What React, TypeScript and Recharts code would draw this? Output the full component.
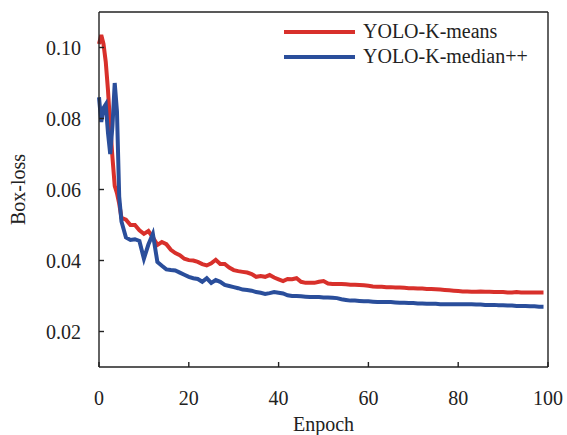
import React from 'react';
import { LineChart, Line, XAxis, YAxis, ReferenceLine } from 'recharts';

// Training epochs (finer steps in the first few epochs where the curves jump around)
const epochs = [
  0, 0.5, 1, 1.5, 2, 2.5, 3, 3.5, 4, 4.5,
  5, 6, 7, 8, 9, 10, 11, 12, 13, 14, 15, 16, 17, 18, 19,
  20, 21, 22, 23, 24, 25, 26, 27, 28, 29, 30, 31, 32, 33, 34,
  35, 36, 37, 38, 39, 40, 41, 42, 43, 44, 45, 46, 47, 48, 49,
  50, 51, 52, 53, 54, 55, 56, 57, 58, 59, 60, 61, 62, 63, 64,
  65, 66, 67, 68, 69, 70, 71, 72, 73, 74, 75, 76, 77, 78, 79,
  80, 81, 82, 83, 84, 85, 86, 87, 88, 89, 90, 91, 92, 93, 94,
  95, 96, 97, 98, 99,
];

// YOLO-K-means box loss
const meansLoss = [
  0.101, 0.1035, 0.101, 0.096, 0.088, 0.078, 0.069, 0.061, 0.059, 0.056,
  0.052, 0.0515, 0.05, 0.05, 0.0485, 0.0475, 0.0483, 0.0465, 0.0444, 0.0452,
  0.0446, 0.043, 0.0421, 0.0415, 0.0405,
  0.0401, 0.04, 0.0396, 0.039, 0.0386, 0.0392, 0.0402, 0.039, 0.039, 0.038,
  0.0373, 0.037, 0.0368, 0.0366, 0.0362,
  0.0354, 0.0356, 0.0354, 0.0359, 0.0352, 0.0347, 0.0342, 0.0348, 0.0347, 0.035,
  0.034, 0.0337, 0.0337, 0.0337, 0.034,
  0.0342, 0.0335, 0.0334, 0.0334, 0.0334, 0.0333, 0.0332, 0.0332, 0.0331, 0.033,
  0.0329, 0.0327, 0.0326, 0.0326, 0.0325,
  0.0325, 0.0324, 0.0324, 0.0323, 0.0322, 0.0322, 0.0321, 0.0321, 0.032, 0.032,
  0.0319, 0.0318, 0.0317, 0.0316, 0.0315,
  0.0314, 0.0313, 0.0313, 0.0312, 0.0312, 0.0313, 0.0312, 0.0312, 0.0311, 0.0311,
  0.0311, 0.031, 0.031, 0.0311, 0.031,
  0.031, 0.031, 0.031, 0.031, 0.031,
];

// YOLO-K-median++ box loss
const medianLoss = [
  0.086, 0.079, 0.083, 0.084, 0.076, 0.07, 0.078, 0.09, 0.082, 0.058,
  0.051, 0.0465, 0.0458, 0.046, 0.0455, 0.0405, 0.0445, 0.0475, 0.0396, 0.0385,
  0.0375, 0.0373, 0.0372, 0.0366, 0.036,
  0.0354, 0.035, 0.0348, 0.034, 0.035, 0.0337, 0.0345, 0.034, 0.0331, 0.0328,
  0.0325, 0.0322, 0.0318, 0.0317, 0.0315,
  0.0311, 0.0309, 0.0306, 0.0308, 0.0311, 0.0309, 0.0307, 0.0302, 0.03, 0.03,
  0.0299, 0.0298, 0.0297, 0.0297, 0.0297,
  0.0296, 0.0296, 0.0295, 0.0294, 0.0291, 0.0289, 0.0287, 0.0287, 0.0286, 0.0285,
  0.0285, 0.0284, 0.0283, 0.0283, 0.0283,
  0.0283, 0.0282, 0.0281, 0.0281, 0.028, 0.028, 0.0279, 0.0279, 0.0278, 0.0278,
  0.0278, 0.0277, 0.0277, 0.0277, 0.0277,
  0.0277, 0.0277, 0.0277, 0.0277, 0.0276, 0.0276, 0.0275, 0.0275, 0.0275, 0.0274,
  0.0274, 0.0273, 0.0273, 0.0272, 0.0272,
  0.0272, 0.0271, 0.0271, 0.027, 0.027,
];

const xTicks = [0, 20, 40, 60, 80, 100];
const yTicks = [0.02, 0.04, 0.06, 0.08, 0.1];

const series = [
  { key: 'means', name: 'YOLO-K-means', color: '#d8302b' },
  { key: 'median', name: 'YOLO-K-median++', color: '#2a4e9b' },
];

const data = epochs.map((epoch, i) => ({
  epoch,
  means: meansLoss[i],
  median: medianLoss[i],
}));

const FONT = '"Liberation Serif", "Times New Roman", serif';
const AXIS = '#222';

// legend sits inside the plot, top right, no border
const LegendBox = () => (
  <div style={{ position: 'absolute', top: 19, left: 284, fontFamily: FONT, fontSize: 20, color: '#222' }}>
    {series.map((s) => (
      <div key={s.key} style={{ display: 'flex', alignItems: 'center', height: 25 }}>
        <span style={{ display: 'inline-block', width: 71, height: 4, background: s.color, marginRight: 8 }} />
        <span>{s.name}</span>
      </div>
    ))}
  </div>
);

const App: React.FC = () => {
  return (
    <div style={{ position: 'relative', width: 567, height: 435, fontFamily: FONT }}>
      <style>{'body{margin:0}'}</style>
      <LineChart
        width={567}
        height={435}
        data={data}
        margin={{ top: 12, right: 19, bottom: 0, left: 0 }}
        style={{ fontFamily: FONT }}
      >
        <XAxis
          dataKey="epoch"
          type="number"
          domain={[0, 100]}
          ticks={xTicks}
          height={68}
          tickSize={-5}
          tickMargin={29}
          stroke={AXIS}
          strokeWidth={1.4}
          tick={{ fill: '#222', fontSize: 20, fontFamily: FONT }}
          label={{
            content: (props: any) => {
              const vb = props.viewBox;
              return (
                <text x={vb.x + vb.width / 2} y={431} textAnchor="middle" fill="#222" fontSize={20} fontFamily={FONT}>
                  Enpoch
                </text>
              );
            },
          }}
        />
        <YAxis
          type="number"
          domain={[0.01, 0.11]}
          ticks={yTicks}
          width={99}
          tickSize={-5}
          tickMargin={23}
          stroke={AXIS}
          strokeWidth={1.4}
          tickFormatter={(v: number) => v.toFixed(2)}
          tick={{ fill: '#222', fontSize: 20, fontFamily: FONT }}
          label={{
            content: (props: any) => {
              const vb = props.viewBox;
              const cx = 18;
              const cy = vb.y + vb.height / 2;
              return (
                <text
                  x={cx}
                  y={cy}
                  transform={`rotate(-90 ${cx} ${cy})`}
                  textAnchor="middle"
                  dominantBaseline="central"
                  fill="#222"
                  fontSize={20}
                  fontFamily={FONT}
                >
                  Box-loss
                </text>
              );
            },
          }}
        />
        <ReferenceLine y={0.11} stroke={AXIS} strokeWidth={1.4} />
        <ReferenceLine x={100} stroke={AXIS} strokeWidth={1.4} />
        {series.map((s) => (
          <Line
            key={s.key}
            type="linear"
            dataKey={s.key}
            name={s.name}
            stroke={s.color}
            strokeWidth={4}
            dot={false}
            isAnimationActive={false}
          />
        ))}
      </LineChart>
      <LegendBox />
    </div>
  );
};

export default App;
